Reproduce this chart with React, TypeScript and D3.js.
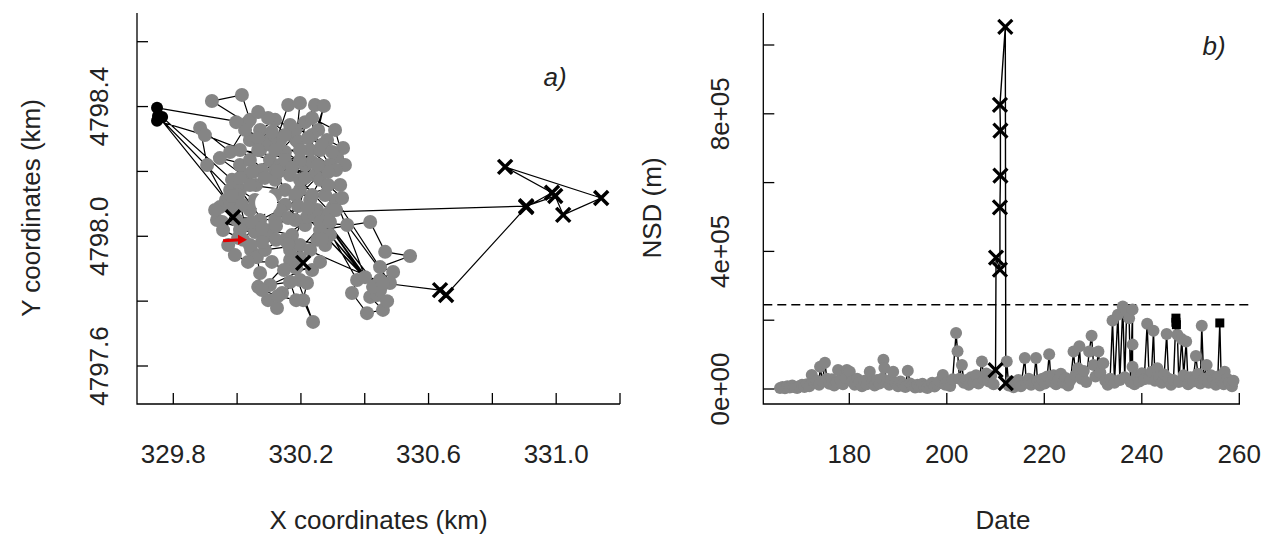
import React from 'react';
import * as d3 from 'd3';

// ---------- Panel a) : track of locations (km) ----------
const trackX = [
  329.749, 330.031, 329.921, 330.015, 330.040, 329.978, 329.884, 329.906, 329.965, 329.752,
  329.978, 330.025, 330.103, 330.160, 330.197, 330.185, 330.244, 330.229, 330.272, 330.254,
  330.166, 329.946, 330.059, 330.135, 330.282, 330.332, 330.197, 330.313, 330.119, 330.323,
  330.040, 329.946, 329.937, 330.087, 330.150, 330.213, 330.301, 330.244, 330.135, 330.072,
  330.009, 329.999, 330.044, 330.062, 330.072, 330.066, 330.097, 330.125, 330.141, 330.197,
  330.219, 330.207, 330.238, 330.166, 330.251, 330.260, 330.417, 330.464, 330.542, 330.448,
  330.489, 330.448, 330.417, 330.457, 330.407, 330.360, 330.376, 330.251, 330.439, 330.269,
  330.448, 330.229, 330.426, 330.291, 330.470, 330.219, 330.401, 330.310, 330.479, 330.345,
  329.987, 330.457, 330.636, 330.655, 330.906, 330.987, 330.840, 331.141, 331.022, 330.997,
  330.906, 330.291, 330.197, 330.119, 330.150, 330.056, 330.009, 330.103, 330.172, 330.207,
  330.166, 330.235, 330.260, 329.899, 329.749, 329.765, 329.984, 330.040, 330.103, 330.150,
  330.213, 330.119, 330.056, 329.990, 329.956, 330.019, 330.072, 330.135, 330.182, 330.235,
  330.182, 330.119, 330.072, 330.040, 330.087, 330.166, 330.213, 330.197, 330.260, 330.291,
  330.009, 330.182, 330.276, 330.040, 330.003, 330.025, 330.150, 330.197, 330.087, 330.244,
  330.276, 330.009, 329.978, 329.931, 329.953, 330.056, 330.119, 330.150, 330.078, 330.235,
  330.307, 330.338, 330.235, 330.097, 330.066, 330.310,
  330.025, 330.066, 330.109, 330.150, 330.191, 330.222, 330.266, 330.298, 330.285, 330.254,
  330.213, 330.172, 330.128, 330.087, 330.047, 330.009, 329.984, 330.015, 330.047, 330.078,
  330.122, 330.160, 330.191, 330.222, 330.260, 330.291, 330.266, 330.229, 330.197, 330.160,
  330.122, 330.078, 330.040, 330.003, 329.972, 329.993, 330.034, 330.109, 330.147, 330.185,
  330.235, 330.260, 330.103, 330.166, 330.185, 330.128, 330.078, 330.310, 330.329, 330.285,
  329.997, 330.066, 330.197, 330.119,
];
const trackY = [
  4798.396, 4798.349, 4798.417, 4798.436, 4798.359, 4798.260, 4798.334, 4798.220, 4798.112, 4798.371,
  4798.143, 4798.189, 4798.235, 4798.405, 4798.411, 4798.297, 4798.405, 4798.266, 4798.402, 4798.328,
  4798.189, 4798.241, 4798.158, 4798.297, 4798.297, 4798.272, 4798.143, 4798.245, 4798.050, 4798.158,
  4798.081, 4798.090, 4798.050, 4798.004, 4798.097, 4798.035, 4798.090, 4798.189, 4798.220, 4798.266,
  4798.220, 4798.050, 4797.958, 4797.936, 4797.887, 4797.844, 4797.803, 4797.779, 4797.825, 4797.865,
  4797.856, 4797.803, 4797.736, 4797.927, 4797.989, 4798.019, 4798.044, 4797.952, 4797.939, 4797.905,
  4797.890, 4797.865, 4797.813, 4797.773, 4797.763, 4797.825, 4797.865, 4798.081, 4797.819, 4798.059,
  4797.834, 4798.112, 4797.844, 4798.004, 4797.800, 4798.059, 4797.874, 4798.112, 4797.856, 4798.035,
  4798.059, 4797.856, 4797.834, 4797.819, 4798.090, 4798.134, 4798.214, 4798.118, 4798.066, 4798.124,
  4798.093, 4798.075, 4798.174, 4798.201, 4798.143, 4798.112, 4798.143, 4798.019, 4798.004, 4797.918,
  4797.958, 4798.127, 4798.174, 4798.312, 4798.356, 4798.368, 4798.174, 4798.235, 4798.297, 4798.260,
  4798.220, 4798.174, 4798.201, 4798.081, 4798.019, 4797.989, 4798.050, 4798.081, 4798.050, 4798.229,
  4798.328, 4798.359, 4798.328, 4798.297, 4798.282, 4798.343, 4798.352, 4798.235, 4798.266, 4798.220,
  4798.266, 4798.127, 4798.127, 4798.158, 4798.127, 4798.035, 4797.989, 4797.973, 4797.958, 4798.066,
  4797.973, 4798.019, 4798.097, 4798.081, 4798.044, 4798.013, 4798.127, 4798.235, 4798.204, 4798.365,
  4798.328, 4798.220, 4798.312, 4798.365, 4798.383, 4798.204,
  4798.328, 4798.303, 4798.322, 4798.312, 4798.291, 4798.303, 4798.282, 4798.260, 4798.198, 4798.220,
  4798.180, 4798.211, 4798.198, 4798.180, 4798.198, 4798.180, 4798.124, 4798.097, 4798.044, 4798.026,
  4798.032, 4798.056, 4798.093, 4798.087, 4798.044, 4798.044, 4797.989, 4797.958, 4797.933, 4797.976,
  4797.989, 4797.982, 4797.973, 4797.995, 4797.973, 4797.942, 4797.921, 4797.921, 4797.896, 4797.902,
  4797.896, 4797.921, 4797.850, 4797.859, 4797.803, 4797.816, 4797.834, 4798.081, 4798.118, 4798.158,
  4798.352, 4798.266, 4798.266, 4798.266,
];
// g = gray circle, x = cross (excursion), b = black dot
const trackKind = (
  'bggggggggb' + 'gggggggggg' + 'gggggggggg' + 'gggggggggg' + 'gggggggggg' +
  'gggggggggg' + 'gggggggggg' + 'gggggggggg' + 'xgxxxxxxxx' + 'xggggggggx' +
  'gggg' + 'bb' + 'gggg' + 'gggggggggg' + 'gggggggggg' + 'gggggggggg' +
  'gggggggggg' + 'gggggg' +
  'gggggggggg' + 'gggggggggg' + 'gggggggggg' + 'gggggggggg' + 'gggggggggg' + 'gggg'
).split('');
const homeX = [330.091];
const homeY = [4798.103];
const arrowX = [329.956, 330.031];
const arrowY = [4797.986, 4797.989];

const xTicksA = [329.8, 330.0, 330.2, 330.4, 330.6, 330.8, 331.0, 331.2];
const xLabelsA = ['329.8', '', '330.2', '', '330.6', '', '331.0', ''];
const yTicksA = [4797.6, 4797.8, 4798.0, 4798.2, 4798.4, 4798.6];
const yLabelsA = ['4797.6', '', '4798.0', '', '4798.4', ''];

// ---------- Panel b) : NSD vs date ----------
const nsdDay = [
  165.8, 166.3, 166.8, 167.3, 167.8, 168.3, 168.8, 169.3, 169.8, 170.3,
  170.8, 171.3, 171.8, 172.3, 172.8, 173.3, 173.8, 174.0, 174.5, 175.0,
  175.4, 175.9, 176.4, 176.9, 177.4, 177.7, 178.2, 178.7, 179.2, 179.5,
  180.1, 180.6, 181.1, 181.6, 182.1, 182.6, 183.1, 183.6, 184.2, 184.7,
  185.2, 185.7, 186.2, 186.7, 187.0, 187.2, 187.7, 188.2, 188.6, 189.0,
  189.5, 190.0, 190.5, 191.0, 191.5, 192.0, 192.5, 193.0, 193.5, 194.0,
  194.5, 195.0, 195.5, 196.0, 196.5, 197.0, 197.5, 198.0, 198.5, 199.2,
  199.7, 200.2, 200.7, 201.2, 201.9, 202.2, 202.6, 203.1, 203.5, 204.0,
  204.5, 205.0, 205.5, 206.0, 206.5, 207.2, 207.6, 208.1, 208.6, 209.1,
  209.6, 210.0, 210.1, 210.9, 210.9, 211.0, 211.0, 210.9, 212.0, 212.1,
  212.3, 212.7, 213.2, 213.7, 214.2, 214.7, 215.2, 216.0, 216.3, 216.8,
  217.3, 217.8, 218.3, 218.6, 219.1, 219.6, 220.1, 220.6, 221.0, 221.4,
  221.9, 222.4, 222.9, 223.4, 223.9, 224.4, 224.9, 225.4, 226.0, 226.4,
  226.9, 227.2, 227.6, 228.1, 228.6, 229.2, 229.7, 230.1, 230.5, 231.1,
  231.5, 232.1, 232.5, 233.0, 233.5, 234.0, 234.4, 235.1, 235.5, 236.1,
  236.5, 236.9, 237.4, 237.7, 238.1, 238.1, 238.1, 238.5, 239.0, 239.5,
  240.0, 240.5, 241.1, 241.5, 242.0, 242.4, 242.7, 243.2, 243.6, 244.1,
  244.6, 245.1, 245.5, 246.0, 246.5, 247.0, 247.0, 247.1, 247.3, 247.6,
  248.2, 248.6, 249.1, 249.5, 250.0, 250.5, 251.1, 251.5, 252.0, 252.3,
  252.7, 253.3, 253.7, 254.2, 254.7, 255.2, 255.6, 256.0, 256.3, 256.8,
  257.0, 257.5, 258.0, 258.5, 258.8,
];
const nsdValue = [
  3000, 6000, 2000, 8000, 4000, 10000, 5000, 3000, 9000, 12000,
  6000, 14000, 8000, 41000, 18000, 24000, 12000, 65000, 22000, 76000,
  30000, 15000, 28000, 10000, 20000, 55000, 26000, 14000, 32000, 55000,
  50000, 22000, 12000, 30000, 18000, 8000, 24000, 14000, 50000, 20000,
  10000, 26000, 16000, 30000, 85000, 61000, 20000, 12000, 28000, 50000,
  18000, 8000, 22000, 14000, 6000, 53000, 16000, 10000, 4000, 12000,
  6000, 15000, 8000, 3000, 11000, 18000, 7000, 14000, 22000, 41000,
  12000, 20000, 9000, 28000, 163000, 110000, 30000, 70000, 18000, 26000,
  12000, 34000, 20000, 40000, 16000, 80000, 28000, 45000, 22000, 38000,
  14000, 55000, 382000, 347000, 528000, 620000, 751000, 826000, 1053000, 17000,
  80000, 10000, 22000, 5000, 14000, 26000, 8000, 90000, 18000, 30000,
  12000, 20000, 90000, 24000, 10000, 30000, 16000, 36000, 101000, 22000,
  40000, 14000, 28000, 44000, 18000, 32000, 10000, 26000, 109000, 40000,
  60000, 124000, 30000, 52000, 20000, 109000, 155000, 70000, 36000, 109000,
  48000, 75000, 24000, 12000, 30000, 199000, 18000, 216000, 26000, 240000,
  34000, 226000, 206000, 20000, 231000, 129000, 65000, 14000, 38000, 22000,
  46000, 28000, 190000, 30000, 50000, 169000, 24000, 60000, 36000, 18000,
  42000, 160000, 30000, 12000, 26000, 206000, 194000, 187000, 158000, 20000,
  145000, 40000, 138000, 14000, 34000, 22000, 96000, 44000, 16000, 184000,
  30000, 70000, 18000, 40000, 26000, 12000, 36000, 192000, 22000, 14000,
  50000, 30000, 18000, 8000, 24000,
];
// g = gray circle, x = cross (excursion), s = black square
const nsdKind = (
  'gggggggggg' + 'gggggggggg' + 'gggggggggg' + 'gggggggggg' + 'gggggggggg' +
  'gggggggggg' + 'gggggggggg' + 'gggggggggg' + 'gggggggggg' + 'gxxxxxxxxx' +
  'gggggggggg' + 'gggggggggg' + 'gggggggggg' + 'gggggggggg' + 'gggggggggg' +
  'gggggggggg' + 'gggggggggg' + 'gggggsssgg' + 'gggggggggg' + 'gggggggsgg' +
  'ggggg'
).split('');
const nsdThreshold = [245000];

const xTicksB = [180, 200, 220, 240, 260];
const yTicksB = [0, 200000, 400000, 600000, 800000, 1000000];
const yLabelsB = ['0e+00', '', '4e+05', '', '8e+05', ''];

// ---------- layout ----------
const FONT = "'Liberation Sans', Arial, Helvetica, sans-serif";
const FS = 26;
const GRAY = '#858585';

const A = { left: 137, right: 620, top: 13, bottom: 404 };
const B = { left: 763.3, right: 1240, top: 13, bottom: 404, plotRight: 1250 };

const xA = d3.scaleLinear().domain([329.8, 331.2]).range([173.3, 620]);
const yA = d3.scaleLinear().domain([4797.6, 4798.6]).range([366, 41.7]);
const xB = d3.scaleLinear().domain([180, 260]).range([849.3, 1239.3]);
const yB = d3.scaleLinear().domain([0, 1000000]).range([389, 45]);

function Cross({ x, y, s = 6.5, w = 3 }: { x: number; y: number; s?: number; w?: number }) {
  return (
    <path
      d={`M${x - s},${y - s}L${x + s},${y + s}M${x - s},${y + s}L${x + s},${y - s}`}
      stroke="#000"
      strokeWidth={w}
      fill="none"
    />
  );
}

export default function App() {
  const trackLine = d3
    .line<number>()
    .x((i) => xA(trackX[i]))
    .y((i) => yA(trackY[i]))(trackX.map((_, i) => i));
  const nsdLine = d3
    .line<number>()
    .x((i) => xB(nsdDay[i]))
    .y((i) => yB(nsdValue[i]))(nsdDay.map((_, i) => i));

  const ax0 = xA(arrowX[0]);
  const ay0 = yA(arrowY[0]);
  const ax1 = xA(arrowX[1]);
  const ay1 = yA(arrowY[1]);

  return (
    <svg
      width={1270}
      height={540}
      style={{ position: 'absolute', left: 0, top: 0, background: '#fff' }}
      fontFamily={FONT}
    >
      <rect x={0} y={0} width={1270} height={540} fill="#fff" />

      {/* ================= Panel a ================= */}
      <path d={trackLine || ''} fill="none" stroke="#000" strokeWidth={1.2} />
      {trackX.map((_, i) =>
        trackKind[i] === 'g' ? (
          <circle key={'ga' + i} cx={xA(trackX[i])} cy={yA(trackY[i])} r={7} fill={GRAY} />
        ) : null
      )}
      {homeX.map((v, i) => (
        <circle key={'h' + i} cx={xA(v)} cy={yA(homeY[i])} r={11} fill="#fff" />
      ))}
      {trackX.map((_, i) =>
        trackKind[i] === 'b' ? (
          <circle key={'ba' + i} cx={xA(trackX[i])} cy={yA(trackY[i])} r={6} fill="#000" />
        ) : null
      )}
      {trackX.map((_, i) =>
        trackKind[i] === 'x' ? (
          <Cross key={'xa' + i} x={xA(trackX[i])} y={yA(trackY[i])} s={7} w={3.5} />
        ) : null
      )}
      {/* red arrow */}
      <line x1={ax0} y1={ay0} x2={ax1 - 6} y2={ay1} stroke="#e00000" strokeWidth={3} />
      <path d={`M${ax1},${ay1}L${ax1 - 9},${ay1 - 5}L${ax1 - 9},${ay1 + 5}Z`} fill="#e00000" />

      {/* axes a */}
      <path
        d={`M${A.left},${A.top}L${A.left},${A.bottom}L${A.right},${A.bottom}`}
        fill="none"
        stroke="#000"
        strokeWidth={1.3}
      />
      {xTicksA.map((t, i) => (
        <g key={'xta' + i}>
          <line x1={xA(t)} x2={xA(t)} y1={A.bottom} y2={A.bottom - 11} stroke="#000" strokeWidth={1.3} />
          {xLabelsA[i] && (
            <text x={xA(t)} y={463} textAnchor="middle" fontSize={FS} fill="#222">
              {xLabelsA[i]}
            </text>
          )}
        </g>
      ))}
      {yTicksA.map((t, i) => (
        <g key={'yta' + i}>
          <line x1={A.left} x2={A.left + 11} y1={yA(t)} y2={yA(t)} stroke="#000" strokeWidth={1.3} />
          {yLabelsA[i] && (
            <text
              transform={`translate(108,${yA(t)}) rotate(-90)`}
              textAnchor="middle"
              fontSize={FS}
              fill="#222"
            >
              {yLabelsA[i]}
            </text>
          )}
        </g>
      ))}
      <text x={(A.left + A.right) / 2} y={529} textAnchor="middle" fontSize={FS} fill="#222">
        X coordinates (km)
      </text>
      <text transform={`translate(40,208) rotate(-90)`} textAnchor="middle" fontSize={FS} fill="#222">
        Y coordinates (km)
      </text>
      <text x={555} y={86} textAnchor="middle" fontSize={FS} fontStyle="italic" fill="#222">
        a)
      </text>

      {/* ================= Panel b ================= */}
      <line
        x1={B.left}
        x2={B.plotRight}
        y1={yB(nsdThreshold[0])}
        y2={yB(nsdThreshold[0])}
        stroke="#000"
        strokeWidth={1.5}
        strokeDasharray="9,5"
      />
      <path d={nsdLine || ''} fill="none" stroke="#000" strokeWidth={1.4} />
      {nsdDay.map((_, i) =>
        nsdKind[i] === 'g' ? (
          <circle key={'gb' + i} cx={xB(nsdDay[i])} cy={yB(nsdValue[i])} r={6} fill={GRAY} />
        ) : null
      )}
      {nsdDay.map((_, i) =>
        nsdKind[i] === 'x' ? (
          <Cross key={'xb' + i} x={xB(nsdDay[i])} y={yB(nsdValue[i])} s={7} w={3.2} />
        ) : null
      )}
      {nsdDay.map((_, i) =>
        nsdKind[i] === 's' ? (
          <rect
            key={'sb' + i}
            x={xB(nsdDay[i]) - 4.5}
            y={yB(nsdValue[i]) - 4.5}
            width={9}
            height={9}
            fill="#000"
          />
        ) : null
      )}

      {/* axes b */}
      <path
        d={`M${B.left},${B.top}L${B.left},${B.bottom}L${B.right},${B.bottom}`}
        fill="none"
        stroke="#000"
        strokeWidth={1.3}
      />
      {xTicksB.map((t, i) => (
        <g key={'xtb' + i}>
          <line x1={xB(t)} x2={xB(t)} y1={B.bottom} y2={B.bottom - 11} stroke="#000" strokeWidth={1.3} />
          <text x={xB(t)} y={463} textAnchor="middle" fontSize={FS} fill="#222">
            {String(t)}
          </text>
        </g>
      ))}
      {yTicksB.map((t, i) => (
        <g key={'ytb' + i}>
          <line x1={B.left} x2={B.left + 11} y1={yB(t)} y2={yB(t)} stroke="#000" strokeWidth={1.3} />
          {yLabelsB[i] && (
            <text
              transform={`translate(729,${yB(t)}) rotate(-90)`}
              textAnchor="middle"
              fontSize={FS}
              fill="#222"
            >
              {yLabelsB[i]}
            </text>
          )}
        </g>
      ))}
      <text x={1003} y={529} textAnchor="middle" fontSize={FS} fill="#222">
        Date
      </text>
      <text transform={`translate(661,208) rotate(-90)`} textAnchor="middle" fontSize={FS} fill="#222">
        NSD (m)
      </text>
      <text x={1214} y={55} textAnchor="middle" fontSize={FS} fontStyle="italic" fill="#222">
        b)
      </text>
    </svg>
  );
}
